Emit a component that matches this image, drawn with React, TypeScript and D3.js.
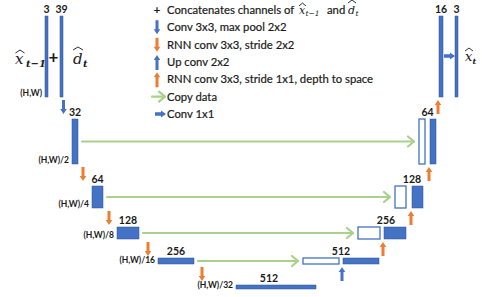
import React from 'react';
import * as d3 from 'd3';

// ---------------- data ----------------
const resolutionLabels = ['(H,W)', '(H,W)/2', '(H,W)/4', '(H,W)/8', '(H,W)/16', '(H,W)/32'];
const inputChannels = [3, 39];
const encoderChannels = [32, 64, 128, 256, 512]; // levels 1..5
const decoderChannels = [16, 64, 128, 256, 512]; // levels 0..4
const outputChannels = [3];
const legendLabels = [
  'Concatenates channels of',
  'Conv 3x3, max pool 2x2',
  'RNN conv 3x3, stride 2x2',
  'Up conv 2x2',
  'RNN conv 3x3, stride 1x1, depth to space',
  'Copy data',
  'Conv 1x1',
];
const legendIcons = ['plus', 'down-blue', 'down-orange', 'up-blue', 'up-orange', 'copy', 'right-blue'];

// ---------------- layout ----------------
const W = 482;
const H = 297;
const BLUE = '#4472C4';
const BLUE_EDGE = '#2F528F';
const ORANGE = '#ED7D31';
const GREEN = '#A9D18E';
const TEXT = '#1a1a1a';
const FONT = 'Lato, "Open Sans", sans-serif';
const MATH = '"DejaVu Serif", serif';
const LEGEND_FS = 11.3;

const lv = d3.range(6);
const yBottom = d3.scaleOrdinal<number, number>().domain(lv).range([97, 164, 208, 239, 264, 289]);
const barH = d3.scaleOrdinal<number, number>().domain(lv).range([81, 45, 22, 12, 6, 4]);
const barW = d3.scaleOrdinal<number, number>().domain(lv).range([3, 6, 11, 22, 36, 80]);
const encX = d3.scaleOrdinal<number, number>().domain(lv).range([60, 72, 92, 117, 158, 236]);
const inX = d3.scaleOrdinal<number, number>().domain([0, 1]).range([45, 60]);
const decOpenX = d3.scaleOrdinal<number, number>().domain(lv).range([0, 419, 395, 358, 303]);
const decFillX = d3.scaleOrdinal<number, number>().domain(lv).range([439, 430, 412, 384, 343]);
const downX = d3.scaleOrdinal<number, number>().domain(lv).range([63.5, 83, 109, 148, 202]);
const legendY = d3.scaleLinear().domain([0, 6]).range([10, 114]);
const legendIconX = 157;
const legendTextX = 167;

const yTop = (l: number) => yBottom(l) - barH(l);
const yMid = (l: number) => yBottom(l) - barH(l) / 2;

function vArrow(cx: number, tail: number, tip: number, sw = 3, hw = 6.5, hl = 5) {
  const dir = tip > tail ? 1 : -1;
  const hb = tip - dir * hl;
  return `M${cx - sw / 2},${tail}L${cx + sw / 2},${tail}L${cx + sw / 2},${hb}L${cx + hw / 2},${hb}L${cx},${tip}L${cx - hw / 2},${hb}L${cx - sw / 2},${hb}Z`;
}
function hArrow(cy: number, tail: number, tip: number, sw = 3.5, hw = 7, hl = 5) {
  const hb = tip - hl;
  return `M${tail},${cy - sw / 2}L${hb},${cy - sw / 2}L${hb},${cy - hw / 2}L${tip},${cy}L${hb},${cy + hw / 2}L${hb},${cy + sw / 2}L${tail},${cy + sw / 2}Z`;
}
function GreenArrow({ x0, x1, y }: { x0: number; x1: number; y: number }) {
  return (
    <g stroke={GREEN} strokeWidth={2.2} fill="none" strokeLinecap="round" strokeLinejoin="round">
      <line x1={x0} x2={x1} y1={y} y2={y} />
      <path d={`M${x1 - 6},${y - 5}L${x1},${y}L${x1 - 6},${y + 5}`} />
    </g>
  );
}

function Hat({ x, y, w }: { x: number; y: number; w: number }) {
  return <path d={`M${x},${y}L${x + w / 2},${y - 3}L${x + w},${y}`} stroke={TEXT} strokeWidth={0.9} fill="none" />;
}

export default function App() {
  const chLabel = (x: number, y: number, t: string | number, key?: string) => (
    <text key={key} x={x} y={y} textAnchor="middle" fontFamily={FONT} fontWeight={700} fontSize={10.5} fill={TEXT}>
      {t}
    </text>
  );
  const resLabel = (l: number, x: number) => (
    <text key={'r' + l} x={x} y={yBottom(l) - 1} textAnchor="end" fontFamily={FONT} fontWeight={700} fontSize={8.5} fill={TEXT}>
      {resolutionLabels[l]}
    </text>
  );

  return (
    <svg width={W} height={H} style={{ position: 'absolute', left: 0, top: 0, background: '#fff' }}>
      <rect width={W} height={H} fill="#fff" />

      {/* input bars */}
      {inputChannels.map((c, i) => (
        <g key={'in' + i}>
          <rect x={inX(i)} y={yTop(0)} width={barW(0)} height={barH(0)} fill={BLUE} stroke={BLUE_EDGE} strokeWidth={0.5} />
          {chLabel(inX(i) + barW(0) / 2, yTop(0) - 3, c)}
        </g>
      ))}
      {resLabel(0, 42)}
      {/* plus */}
      <text x={53.5} y={63} textAnchor="middle" fontFamily={FONT} fontWeight={700} fontSize={17} fill={TEXT}>+</text>
      {/* x̂_{t-1} and d̂_t */}
      <g fill={TEXT}>
        <text x={15} y={64} fontFamily={MATH} fontStyle="italic" fontSize={15}>x</text>
        <Hat x={15.5} y={53} w={9} />
        <text x={26} y={67} fontFamily={MATH} fontStyle="italic" fontWeight={700} fontSize={10}>t−1</text>
        <text x={73} y={64} fontFamily={MATH} fontStyle="italic" fontSize={15}>d</text>
        <Hat x={73} y={50} w={10} />
        <text x={83} y={67} fontFamily={MATH} fontStyle="italic" fontWeight={700} fontSize={10}>t</text>
      </g>

      {/* encoder levels 1..5 */}
      {encoderChannels.map((c, i) => {
        const l = i + 1;
        return (
          <g key={'enc' + l}>
            <rect x={encX(l)} y={yTop(l)} width={barW(l)} height={barH(l)} fill={BLUE} stroke={BLUE_EDGE} strokeWidth={0.5} />
            {chLabel(encX(l) + barW(l) / 2 - (l === 5 ? 7 : 0), yTop(l) - 3, c)}
            {resLabel(l, encX(l) - 3)}
          </g>
        );
      })}

      {/* down arrows */}
      {lv.slice(0, 5).map((l) => (
        <path key={'d' + l} d={vArrow(downX(l), yBottom(l) + 3, yBottom(l) + 17)} fill={l === 0 ? BLUE : ORANGE} />
      ))}

      {/* copy arrows */}
      {[1, 2, 3, 4].map((l) => (
        <GreenArrow key={'g' + l} x0={encX(l) + barW(l) + 4} x1={decOpenX(l) - 5} y={yMid(l)} />
      ))}

      {/* decoder levels 1..4 */}
      {decoderChannels.slice(1).map((c, i) => {
        const l = i + 1;
        const w = barW(l);
        const gapMid = (decOpenX(l) + w + decFillX(l)) / 2;
        return (
          <g key={'dec' + l}>
            <rect x={decOpenX(l)} y={yTop(l)} width={w} height={barH(l)} fill="#fff" stroke={BLUE} strokeWidth={1.3} />
            <rect x={decFillX(l)} y={yTop(l)} width={w} height={barH(l)} fill={BLUE} stroke={BLUE_EDGE} strokeWidth={0.5} />
            {chLabel(gapMid + (l === 3 ? 4 : l === 2 ? 3 : 0), yTop(l) - 3, c)}
          </g>
        );
      })}

      {/* up arrows */}
      {lv.slice(0, 5).map((l) => (
        <path key={'u' + l} d={vArrow(decFillX(l) - 1, yBottom(l) + 17, yBottom(l) + 3)} fill={l === 4 ? BLUE : ORANGE} />
      ))}

      {/* output level 0 */}
      <rect x={decFillX(0)} y={yTop(0)} width={barW(0) + 1} height={barH(0)} fill={BLUE} stroke={BLUE_EDGE} strokeWidth={0.5} />
      {chLabel(decFillX(0) + 2, yTop(0) - 3, decoderChannels[0])}
      <rect x={455} y={yTop(0)} width={barW(0)} height={barH(0)} fill={BLUE} stroke={BLUE_EDGE} strokeWidth={0.5} />
      {chLabel(456.5, yTop(0) - 3, outputChannels[0])}
      <path d={hArrow(56, 444, 455)} fill={BLUE} />
      <g fill={TEXT}>
        <text x={465} y={61} fontFamily={MATH} fontStyle="italic" fontSize={13}>x</text>
        <Hat x={465} y={51} w={8} />
        <text x={472.5} y={64} fontFamily={MATH} fontStyle="italic" fontWeight={700} fontSize={8}>t</text>
      </g>

      {/* legend */}
      {legendLabels.map((t, i) => {
        const y = legendY(i);
        const icon = legendIcons[i];
        let glyph: React.ReactNode = null;
        if (icon === 'plus')
          glyph = <text x={legendIconX} y={y + 4} textAnchor="middle" fontFamily={FONT} fontWeight={700} fontSize={12} fill={TEXT}>+</text>;
        else if (icon.startsWith('down'))
          glyph = <path d={vArrow(legendIconX, y - 7, y + 7)} fill={icon.endsWith('blue') ? BLUE : ORANGE} />;
        else if (icon.startsWith('up'))
          glyph = <path d={vArrow(legendIconX, y + 8, y - 7)} fill={icon.endsWith('blue') ? BLUE : ORANGE} />;
        else if (icon === 'copy') glyph = <GreenArrow x0={152} x1={165} y={y} />;
        else glyph = <path d={hArrow(y, 155, 166)} fill={BLUE} />;
        return (
          <g key={'lg' + i}>
            {glyph}
            <text x={legendTextX} y={y + 4} fontFamily={FONT} fontSize={LEGEND_FS} fill={TEXT} stroke={TEXT} strokeWidth={0.2}>
              {t}
            </text>
          </g>
        );
      })}
      {/* math in legend row 0 */}
      <g fill={TEXT}>
        <text x={299} y={14} fontFamily={MATH} fontStyle="italic" fontSize={11}>x</text>
        <Hat x={299} y={6} w={7} />
        <text x={305.5} y={16} fontFamily={MATH} fontStyle="italic" fontSize={7.5}>t−1</text>
        <text x={327} y={14} fontFamily={FONT} fontSize={LEGEND_FS} stroke={TEXT} strokeWidth={0.2}>and</text>
        <text x={348} y={14} fontFamily={MATH} fontStyle="italic" fontSize={11}>d</text>
        <Hat x={348} y={3} w={8} />
        <text x={355.5} y={16} fontFamily={MATH} fontStyle="italic" fontSize={7.5}>t</text>
      </g>
    </svg>
  );
}
